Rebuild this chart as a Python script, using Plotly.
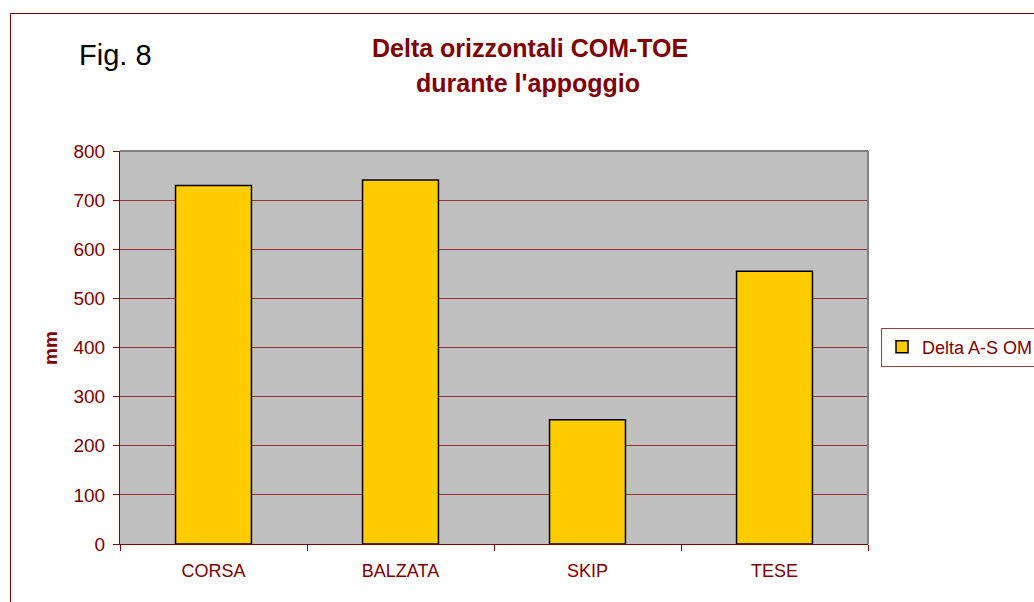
import plotly.graph_objects as go

categories = ["CORSA", "BALZATA", "SKIP", "TESE"]
values = [730, 741, 253, 555]
series_name = "Delta A-S OM"
y_ticks = [0, 100, 200, 300, 400, 500, 600, 700, 800]

DARK_RED = "#800000"
FONT = "Liberation Sans, Arial, sans-serif"

W, H = 1034, 602
L, R, T, B = 120, 868, 151, 544  # plot area in pixels


def px(x):
    return (x - L) / (R - L)


def py(y):
    return (B - y) / (B - T)


fig = go.Figure()
fig.add_trace(go.Bar(
    x=categories, y=values, name=series_name,
    marker=dict(color="#FFCC00", line=dict(color="black", width=1.5)),
    showlegend=True,
))

fig.update_layout(
    width=W, height=H,
    margin=dict(l=L, r=W - R, t=T, b=H - B, autoexpand=False),
    paper_bgcolor="white",
    plot_bgcolor="#C0C0C0",
    bargap=0.594,
    font=dict(family=FONT, color=DARK_RED, size=18),
    showlegend=True,
    legend=dict(
        x=px(881), y=py(347), xanchor="left", yanchor="middle",
        bgcolor="white", bordercolor="#A04040", borderwidth=1,
        font=dict(family=FONT, size=18, color=DARK_RED),
    ),
)

fig.update_xaxes(
    showline=True, linecolor=DARK_RED, linewidth=1,
    ticks="outside", ticklen=6, tickcolor=DARK_RED, tickson="boundaries",
    tickfont=dict(family=FONT, size=18, color=DARK_RED),
    ticklabelstandoff=10,
    showgrid=False, zeroline=False,
)
fig.update_yaxes(
    range=[0, 800], tickvals=y_ticks,
    showline=True, linecolor=DARK_RED, linewidth=1,
    ticks="outside", ticklen=6, tickcolor=DARK_RED,
    tickfont=dict(family=FONT, size=19, color=DARK_RED),
    ticklabelstandoff=4,
    showgrid=True, gridcolor="#993333", gridwidth=1,
    zeroline=False,
)

# gray frame top and right of plot area
fig.add_shape(type="line", xref="paper", yref="paper", x0=0, x1=1, y0=1, y1=1,
              line=dict(color="#808080", width=2))
fig.add_shape(type="line", xref="paper", yref="paper", x0=1, x1=1, y0=0, y1=1,
              line=dict(color="#808080", width=2))

# outer chart border
fig.add_shape(type="rect", xref="paper", yref="paper",
              x0=px(10.5), x1=px(1100), y0=py(640), y1=py(13.5),
              line=dict(color=DARK_RED, width=1), fillcolor="rgba(0,0,0,0)")

# title lines
fig.add_annotation(text="<b>Delta orizzontali COM-TOE</b>", xref="paper", yref="paper",
                   x=px(530), y=py(48), xanchor="center", yanchor="middle", showarrow=False,
                   font=dict(family=FONT, size=25, color=DARK_RED))
fig.add_annotation(text="<b>durante l'appoggio</b>", xref="paper", yref="paper",
                   x=px(528), y=py(83), xanchor="center", yanchor="middle", showarrow=False,
                   font=dict(family=FONT, size=25, color=DARK_RED))

# Fig. 8 label
fig.add_annotation(text="Fig. 8", xref="paper", yref="paper",
                   x=px(77), y=py(55), xanchor="left", yanchor="middle", showarrow=False,
                   font=dict(family=FONT, size=29, color="black"))

# y axis title
fig.add_annotation(text="<b>mm</b>", xref="paper", yref="paper",
                   x=px(50), y=py(348), xanchor="center", yanchor="middle", showarrow=False,
                   textangle=-90, font=dict(family=FONT, size=19, color=DARK_RED))

fig.write_html(
    "out.html",
    config={"displayModeBar": False},
    post_script="document.body.style.margin='0';document.body.style.overflow='hidden';",
)
